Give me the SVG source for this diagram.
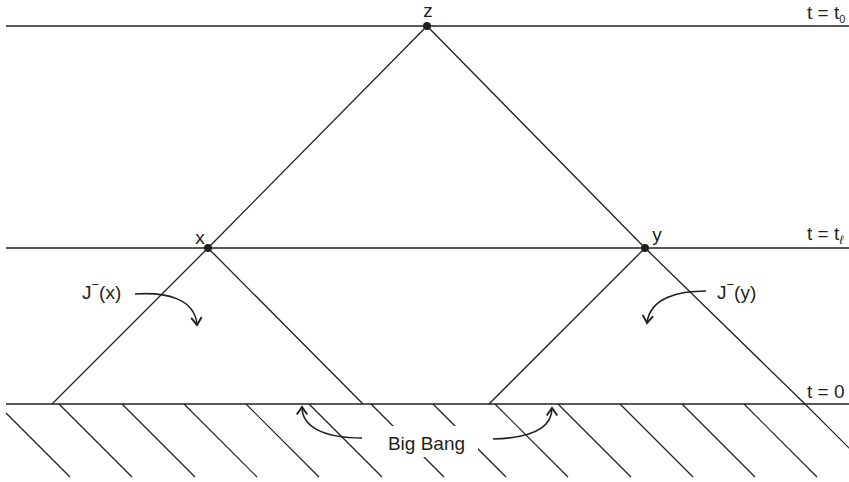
<svg xmlns="http://www.w3.org/2000/svg" width="849" height="482" viewBox="0 0 849 482">
<style>
.ln{stroke:#231f20;stroke-width:1.3;fill:none}
.hl{stroke:#231f20;stroke-width:1.2;fill:none}
.ar{stroke:#231f20;stroke-width:1.6;fill:none}
.tx{font-family:"Liberation Sans",Arial,sans-serif;font-size:19px;fill:#231f20}
.dot{fill:#231f20}
</style>
<defs>
<marker id="ah" markerWidth="14" markerHeight="14" refX="0" refY="0" viewBox="-8 -6 10 12" orient="auto" markerUnits="userSpaceOnUse">
<path d="M-6.5,-4.5 L0,0 L-6.5,4.5" fill="none" stroke="#231f20" stroke-width="1.6"/>
</marker>
</defs>
<rect width="849" height="482" fill="#ffffff"/>
<g id="hatching">
<line class="hl" x1="6" y1="413" x2="70" y2="477"/>
<line class="hl" x1="59" y1="404" x2="132" y2="477"/>
<line class="hl" x1="122" y1="404" x2="195" y2="477"/>
<line class="hl" x1="184" y1="404" x2="257" y2="477"/>
<line class="hl" x1="246" y1="404" x2="319" y2="477"/>
<line class="hl" x1="309" y1="404" x2="382" y2="477"/>
<line class="hl" x1="371" y1="404" x2="444" y2="477"/>
<line class="hl" x1="433" y1="404" x2="506" y2="477"/>
<line class="hl" x1="495" y1="404" x2="568" y2="477"/>
<line class="hl" x1="558" y1="404" x2="631" y2="477"/>
<line class="hl" x1="620" y1="404" x2="693" y2="477"/>
<line class="hl" x1="682" y1="404" x2="755" y2="477"/>
<line class="hl" x1="744" y1="404" x2="817" y2="477"/>
<line class="hl" x1="805" y1="404" x2="878" y2="477"/>
<rect x="366" y="426" width="112" height="31" fill="#ffffff"/>
</g>
<g id="time-lines">
<line class="ln" x1="6" y1="26" x2="849" y2="26"/>
<line class="ln" x1="6" y1="248" x2="849" y2="248"/>
<line class="ln" x1="6" y1="404" x2="849" y2="404"/>
<text class="tx" x="807" y="19">t = t<tspan font-size="11" dy="4">0</tspan></text>
<text class="tx" x="807" y="240">t = t<tspan font-size="12" font-style="italic" dy="4">ℓ</tspan></text>
<text class="tx" x="807" y="398">t = 0</text>
</g>
<g id="connectors">
<line class="ln" x1="427" y1="26" x2="208" y2="248"/>
<line class="ln" x1="427" y1="26" x2="645" y2="248"/>
<line class="ln" x1="208" y1="248" x2="52" y2="404"/>
<line class="ln" x1="208" y1="248" x2="363" y2="404"/>
<line class="ln" x1="645" y1="248" x2="489" y2="404"/>
<line class="ln" x1="645" y1="248" x2="805" y2="404"/>
<path class="ar" d="M135,294 C165,292 195,298 197,325" marker-end="url(#ah)"/>
<path class="ar" d="M706,291 C680,291 650,297 647,323" marker-end="url(#ah)"/>
<path class="ar" d="M362,438 C322,438 302,426 302,407" marker-end="url(#ah)"/>
<path class="ar" d="M493,439 C533,438 552,428 552,408" marker-end="url(#ah)"/>
</g>
<g id="z">
<circle class="dot" cx="427" cy="26" r="4"/>
<text class="tx" x="428" y="17" text-anchor="middle">z</text>
</g>
<g id="x">
<circle class="dot" cx="208" cy="248" r="4"/>
<text class="tx" x="200" y="244" text-anchor="middle">x</text>
</g>
<g id="y">
<circle class="dot" cx="645" cy="248" r="4"/>
<text class="tx" x="657" y="241" text-anchor="middle">y</text>
</g>
<g id="Jx">
<text class="tx" x="82" y="299">J<tspan font-size="13" dy="-10">−</tspan><tspan dy="10">(x)</tspan></text>
</g>
<g id="Jy">
<text class="tx" x="717" y="299">J<tspan font-size="13" dy="-10">−</tspan><tspan dy="10">(y)</tspan></text>
</g>
<g id="bigbang">
<text class="tx" x="426.5" y="450" text-anchor="middle" font-size="20.5">Big Bang</text>
</g>
</svg>
